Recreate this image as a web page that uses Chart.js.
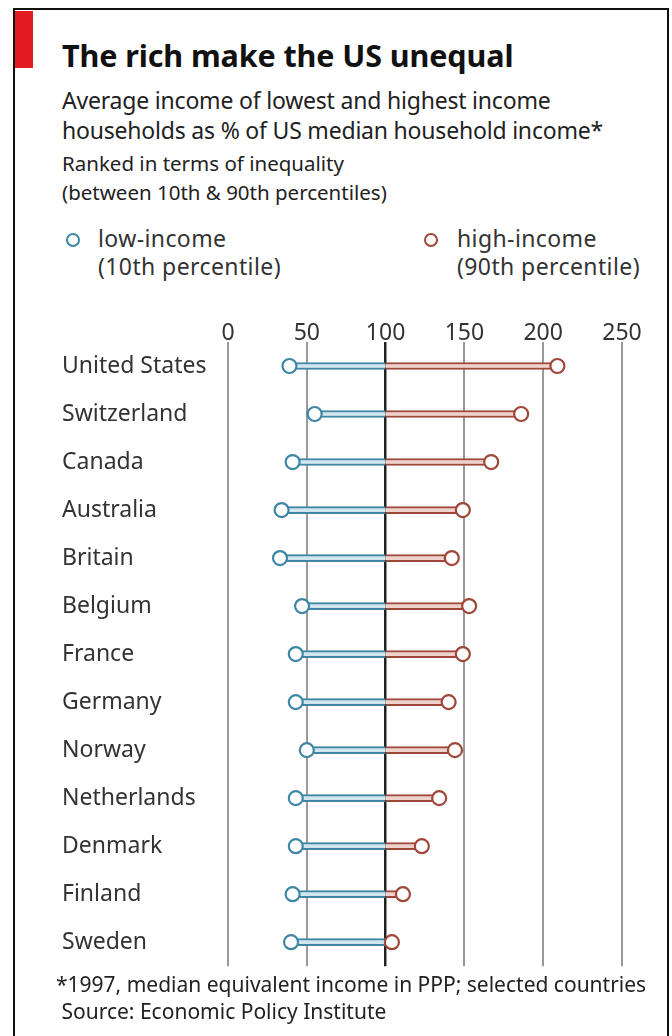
<!DOCTYPE html>
<html>
<head>
<title>The rich make the US unequal</title>
<script src="https://cdn.jsdelivr.net/npm/chart.js@4/dist/chart.umd.min.js"></script>
<style>
  body {margin: 0; width: 672px; height: 1036px; position: relative; overflow: hidden; background: #fff;
        font-family: "Noto Sans", sans-serif; color: #222;}
  .frame {position: absolute; left: 13px; top: 8px; width: 652px; height: 1040px;
          border: 2.5px solid #111; border-bottom: none;}
  .redbar {position: absolute; left: 15px; top: 11px; width: 18px; height: 57px; background: #e31b23;}
  .txt {position: absolute; white-space: nowrap;}
  .dot {position: absolute; width: 10px; height: 10px; border-radius: 50%; border: 2.5px solid;}
  #wrap {position: absolute; left: 0; top: 304px; width: 672px; height: 679px;}
</style>
</head>
<body>
<div class="frame"></div>
<div class="redbar"></div>
<div class="txt" style="left:62px; top:34px; font-size:30.5px; font-weight:bold; color:#111; letter-spacing:-0.1px;">The rich make the US unequal</div>
<div class="txt" style="left:62px; top:85px; font-size:23px; line-height:30px; color:#222; letter-spacing:-0.2px;">Average income of lowest and highest income<br>households as % of US median household income*</div>
<div class="txt" style="left:62px; top:149px; font-size:20.5px; line-height:29px; color:#222;">Ranked in terms of inequality<br>(between 10th &amp; 90th percentiles)</div>

<div class="dot" style="left:66px; top:233px; border-color:#3f86a6;"></div>
<div class="txt" style="left:98px; top:224px; font-size:23px; line-height:28px; color:#333; letter-spacing:0.4px;">low-income<br>(10th percentile)</div>
<div class="dot" style="left:424px; top:233px; border-color:#a0473a;"></div>
<div class="txt" style="left:457px; top:224px; font-size:23px; line-height:28px; color:#333; letter-spacing:0.4px;">high-income<br>(90th percentile)</div>

<div id="wrap"><canvas id="chart"></canvas></div>

<div class="txt" style="left:56px; top:971px; font-size:21px; line-height:27px; color:#222;">*1997, median equivalent income in PPP; selected countries<br>&nbsp;Source: Economic Policy Institute</div>

<script>
var countries = ["United States", "Switzerland", "Canada", "Australia", "Britain", "Belgium",
                 "France", "Germany", "Norway", "Netherlands", "Denmark", "Finland", "Sweden"];
var lowIncome = [39, 55, 41, 34, 33, 47, 43, 43, 50, 43, 43, 41, 40];
var highIncome = [209, 186, 167, 149, 142, 153, 149, 140, 144, 134, 123, 111, 104];
var median = 100;
var xTicks = [0, 50, 100, 150, 200, 250];

var blue = "#3f86a6", red = "#a0473a";

// floating bars from each end to the median line
var lowBars = countries.map((c, i) => [lowIncome[i], median]);
var highBars = countries.map((c, i) => [median, highIncome[i]]);

new Chart(document.getElementById("chart"), {
  data: {
    labels: countries,
    datasets: [
      {type: 'bar', data: lowBars, grouped: false, barThickness: 7, order: 2,
       backgroundColor: "#d3e5ed", borderColor: blue, borderSkipped: false,
       borderWidth: {top: 2, bottom: 2, left: 0, right: 0}},
      {type: 'bar', data: highBars, grouped: false, barThickness: 7, order: 2,
       backgroundColor: "#ecd3cd", borderColor: red, borderSkipped: false,
       borderWidth: {top: 2, bottom: 2, left: 0, right: 0}},
      {type: 'line', data: lowIncome, showLine: false, order: 0,
       pointRadius: 7, pointBorderWidth: 2.2, pointBackgroundColor: "#fff", pointBorderColor: blue},
      {type: 'line', data: highIncome, showLine: false, order: 0,
       pointRadius: 7, pointBorderWidth: 2.2, pointBackgroundColor: "#fff", pointBorderColor: red}
    ]
  },
  options: {
    indexAxis: 'y',
    responsive: true,
    maintainAspectRatio: false,
    animation: false,
    layout: {padding: {left: 62, right: 50, top: 0, bottom: 0}},
    plugins: {legend: {display: false}, tooltip: {enabled: false}},
    scales: {
      x: {
        type: 'linear', position: 'top', min: 0, max: 250,
        afterBuildTicks: axis => { axis.ticks = xTicks.map(v => ({value: v})); },
        afterFit: axis => { axis.height = 38; },
        border: {display: false},
        grid: {
          drawTicks: false,
          color: ctx => ctx.tick && ctx.tick.value === median ? "#222" : "#9a9a9a",
          lineWidth: ctx => ctx.tick && ctx.tick.value === median ? 2.5 : 2
        },
        ticks: {padding: -5, color: "#333", font: {family: "Noto Sans", size: 23}}
      },
      y: {
        type: 'category',
        afterFit: axis => { axis.width = 166; },
        border: {display: false},
        grid: {display: false},
        ticks: {crossAlign: 'far', color: "#333", font: {family: "Noto Sans", size: 23}}
      }
    }
  }
});
</script>
</body>
</html>
